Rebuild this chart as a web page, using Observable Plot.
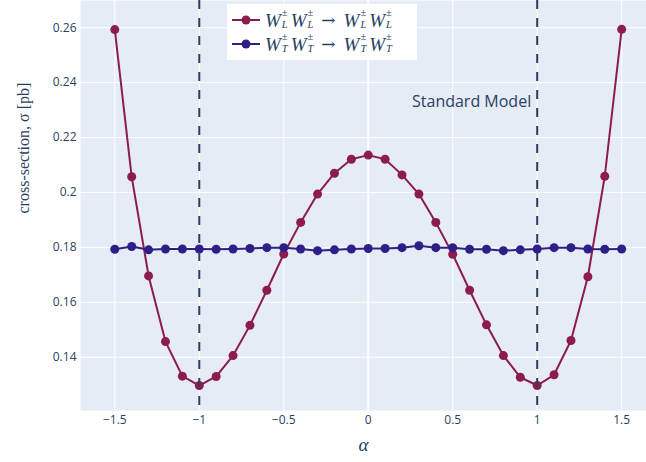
<!DOCTYPE html>
<html>
<head>
<meta charset="utf-8">
<script src="https://cdn.jsdelivr.net/npm/d3@7"></script>
<script src="https://cdn.jsdelivr.net/npm/@observablehq/plot@0.6"></script>
<style>
  body { margin: 0; background: #fff; }
  #wrap { position: relative; width: 646px; height: 462px; }
  #legend { position: absolute; left: 227px; top: 4px; width: 190px; height: 56px; background: #fff; box-sizing: border-box; padding: 4px 0 0 4px; }
  .row { display: flex; align-items: center; height: 24px; }
  .m { font-family: "Liberation Serif", "DejaVu Serif", serif; font-style: italic; font-size: 19px; line-height: 19px; color: #2a3f5f; white-space: nowrap; margin-left: 4px; display: flex; align-items: center; }
  .w { display: inline-flex; align-items: center; }
  .ss { display: inline-flex; flex-direction: column; font-size: 10.5px; line-height: 12px; margin-left: 1px; margin-right: 3px; position: relative; top: -1px; }
  .ss span { display: block; height: 12px; line-height: 12px; }
  .pm { font-style: normal; }
  .arr { font-style: normal; font-family: "DejaVu Serif", serif; font-size: 17px; margin: 0 8px 0 5px; }
</style>
</head>
<body>
<div id="wrap"><div id="chart"></div><div id="legend"></div></div>
<script>
// ---- data ----
const alpha = [-1.5,-1.4,-1.3,-1.2,-1.1,-1.0,-0.9,-0.8,-0.7,-0.6,-0.5,-0.4,-0.3,-0.2,-0.1,0,0.1,0.2,0.3,0.4,0.5,0.6,0.7,0.8,0.9,1.0,1.1,1.2,1.3,1.4,1.5];
const sigmaLL = [0.2593,0.2057,0.1696,0.1457,0.1331,0.1297,0.1330,0.1406,0.1516,0.1644,0.1776,0.1891,0.1994,0.2070,0.2121,0.2136,0.2121,0.2064,0.1994,0.1891,0.1775,0.1644,0.1518,0.1406,0.1327,0.1297,0.1336,0.1461,0.1693,0.2059,0.2594];
const sigmaTT = [0.1793,0.1803,0.1791,0.1794,0.1794,0.1794,0.1793,0.1794,0.1796,0.1799,0.1799,0.1794,0.1788,0.1791,0.1794,0.1796,0.1796,0.1799,0.1806,0.1799,0.1799,0.1793,0.1793,0.1788,0.1791,0.1794,0.1799,0.1799,0.1794,0.1793,0.1794];
const seriesKeys = ["L", "T"];
const seriesColors = ["#8c1b4e", "#2e1e88"];
const xTicks = [-1.5, -1, -0.5, 0, 0.5, 1, 1.5];
const yTicks = [0.14, 0.16, 0.18, 0.2, 0.22, 0.24, 0.26];
const smLines = [-1, 1];
const annotation = [{x: 1, y: 0.233, text: "Standard Model"}];
const xDomain = [-1.703, 1.647];
const yDomain = [0.1206, 0.2699];

const rowsLL = alpha.map((a, i) => ({alpha: a, sigma: sigmaLL[i]}));
const rowsTT = alpha.map((a, i) => ({alpha: a, sigma: sigmaTT[i]}));

const fmt = d => d < 0 ? "\u2212" + Math.abs(d) : String(d);
const txt = "#2a3f5f";

const chart = Plot.plot({
  width: 646,
  height: 462,
  marginLeft: 80,
  marginRight: 0,
  marginTop: 0,
  marginBottom: 52,
  style: {fontFamily: "'Open Sans', sans-serif", fontSize: "12px", color: txt, background: "#fff"},
  x: {domain: xDomain},
  y: {domain: yDomain},
  marks: [
    Plot.frame({fill: "#E5ECF6", stroke: null}),
    Plot.ruleY(yTicks, {stroke: "white", strokeWidth: 1}),
    Plot.ruleX(xTicks, {stroke: "white", strokeWidth: d => d === 0 ? 2 : 1}),
    Plot.line(rowsLL, {x: "alpha", y: "sigma", stroke: seriesColors[0], strokeWidth: 2}),
    Plot.dot(rowsLL, {x: "alpha", y: "sigma", fill: seriesColors[0], r: 4.5}),
    Plot.line(rowsTT, {x: "alpha", y: "sigma", stroke: seriesColors[1], strokeWidth: 2}),
    Plot.dot(rowsTT, {x: "alpha", y: "sigma", fill: seriesColors[1], r: 4.5}),
    Plot.ruleX(smLines, {stroke: txt, strokeWidth: 2, strokeDasharray: "9,9"}),
    Plot.text(annotation, {x: "x", y: "y", text: "text", textAnchor: "end", dx: -6, fontSize: 16, fill: txt}),
    Plot.axisX(xTicks, {tickSize: 0, tickPadding: 5, tickFormat: fmt, label: null, fill: txt}),
    Plot.axisY(yTicks, {tickSize: 0, tickPadding: 4, tickFormat: d => String(d), label: null, fill: txt}),
    Plot.text(["cross-section, \u03C3 [pb]"], {frameAnchor: "left", text: d => d, rotate: -90, dx: -57, dy: 8, fontSize: 16, fontFamily: "'Liberation Serif', serif", fill: txt}),
    Plot.text(["\u03B1"], {frameAnchor: "bottom", text: d => d, dy: 40, fontSize: 19, fontStyle: "italic", fontFamily: "'Liberation Serif', serif", fill: txt})
  ]
});
document.getElementById("chart").appendChild(chart);

// ---- legend ----
const W = s => `<span class="w">W<span class="ss"><span class="pm">\u00B1</span><span>${s}</span></span></span>`;
const legend = document.getElementById("legend");
seriesKeys.forEach((k, i) => {
  const row = document.createElement("div");
  row.className = "row";
  row.innerHTML = `<svg width="30" height="20"><line x1="1" x2="29" y1="10" y2="10" stroke="${seriesColors[i]}" stroke-width="2"/><circle cx="15" cy="10" r="4.5" fill="${seriesColors[i]}"/></svg>` +
    `<span class="m">${W(k)}${W(k)}<span class="arr">\u2192</span>${W(k)}${W(k)}</span>`;
  legend.appendChild(row);
});
</script>
</body>
</html>
